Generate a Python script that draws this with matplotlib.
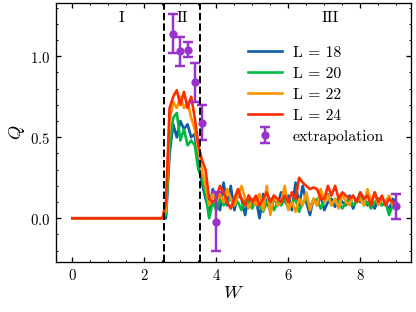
import matplotlib
matplotlib.use("Agg")
import matplotlib.pyplot as plt
import numpy as np

plt.rcParams['font.family'] = 'serif'
plt.rcParams['font.serif'] = ['cmr10', 'DejaVu Serif']
plt.rcParams['mathtext.fontset'] = 'cm'
plt.rcParams['axes.formatter.use_mathtext'] = True
plt.rcParams['font.size'] = 9

# disorder strength grid (W = 2.5 ... 9.0, step 0.1), preceded by W = 0
W = np.concatenate([[0.0], np.round(np.arange(25, 91) / 10, 1)])

# Q for each system size, W = 0, then 2.5 ... 9.0
q18 = [0.0, 0.0, 0.0, 0.40, 0.58, 0.50, 0.60, 0.55, 0.58, 0.50, 0.52, 0.32, 0.22, 0.12, 0.05, 0.18,
       0.12, 0.05, 0.22, 0.08, 0.20, 0.05, 0.15, 0.12, 0.02, 0.14, 0.08, 0.12, 0.00, 0.15, 0.10,
       0.05, 0.12, 0.08, 0.16, 0.10, 0.14, 0.05, 0.22, 0.08, 0.20, 0.10, 0.02, 0.12, 0.08, 0.14,
       0.05, 0.10, 0.12, 0.07, 0.13, 0.10, 0.08, 0.14, 0.06, 0.12, 0.10, 0.13, 0.08, 0.10, 0.06,
       0.12, 0.08, 0.10, 0.05, 0.12, 0.10]
q20 = [0.0, 0.0, 0.02, 0.45, 0.62, 0.65, 0.48, 0.55, 0.45, 0.48, 0.45, 0.30, 0.25, 0.15, 0.00, 0.10,
       0.05, 0.12, 0.08, 0.10, 0.12, 0.08, 0.10, 0.05, 0.12, 0.10, 0.06, 0.12, 0.08, 0.04, 0.10,
       0.12, 0.05, 0.10, 0.08, 0.12, 0.06, 0.10, 0.12, 0.04, 0.10, 0.12, 0.08, 0.10, 0.12, 0.06,
       0.10, 0.15, 0.08, 0.12, 0.10, 0.06, 0.10, 0.12, 0.08, 0.10, 0.16, 0.08, 0.10, 0.06, 0.10,
       0.12, 0.08, 0.10, 0.02, 0.08, 0.10]
q22 = [0.0, 0.0, 0.05, 0.60, 0.72, 0.68, 0.75, 0.68, 0.72, 0.62, 0.55, 0.42, 0.30, 0.20, 0.08, 0.15,
       0.10, 0.15, 0.10, 0.18, 0.12, 0.08, 0.14, 0.20, 0.12, 0.06, 0.12, 0.08, 0.15, 0.05, 0.20,
       0.02, 0.14, 0.08, 0.10, 0.20, 0.05, 0.10, 0.04, 0.12, 0.08, 0.16, 0.05, 0.12, 0.08, 0.18,
       0.10, 0.14, 0.08, 0.12, 0.06, 0.15, 0.10, 0.08, 0.14, 0.10, 0.12, 0.08, 0.18, 0.10, 0.16,
       0.08, 0.12, 0.10, 0.14, 0.08, 0.10]
q24 = [0.0, 0.0, 0.10, 0.68, 0.75, 0.79, 0.70, 0.78, 0.68, 0.75, 0.62, 0.45, 0.36, 0.30, 0.12, 0.10,
       0.12, 0.20, 0.16, 0.10, 0.06, 0.12, 0.18, 0.12, 0.08, 0.14, 0.10, 0.14, 0.08, 0.12, 0.16,
       0.10, 0.14, 0.12, 0.10, 0.14, 0.10, 0.16, 0.12, 0.25, 0.22, 0.20, 0.18, 0.19, 0.18, 0.12,
       0.12, 0.20, 0.14, 0.20, 0.12, 0.16, 0.14, 0.12, 0.14, 0.10, 0.16, 0.12, 0.14, 0.08, 0.16,
       0.10, 0.14, 0.08, 0.12, 0.10, 0.08]

# extrapolated values with error bars
W_ext = [2.8, 3.0, 3.2, 3.4, 3.6, 4.0, 9.0]
Q_ext = [1.14, 1.03, 1.04, 0.84, 0.59, -0.02, 0.075]
Q_err = [0.12, 0.09, 0.045, 0.12, 0.11, 0.18, 0.077]

sizes = ['L = 18', 'L = 20', 'L = 22', 'L = 24']
colors = ['#0C5DA5', '#00B945', '#FF9500', '#FF2C00']

fig = plt.figure(figsize=(3.5, 2.625), dpi=119)
ax = fig.add_axes([0.135, 0.16, 0.851, 0.83])

for q, lab, c in zip([q18, q20, q22, q24], sizes, colors):
    ax.plot(W, q, color=c, lw=1.6, label=lab)

ax.errorbar(W_ext, Q_ext, yerr=Q_err, fmt='o', color='#9933CC', ms=4,
            capsize=3, elinewidth=1.5, capthick=1.5, label='extrapolation')

ax.axvline(2.55, color='k', ls='--', lw=1.2)
ax.axvline(3.54, color='k', ls='--', lw=1.2)

ax.text(1.35, 1.235, 'I', ha='center', va='center', fontsize=9.5)
ax.text(3.05, 1.235, 'II', ha='center', va='center', fontsize=9.5)
ax.text(7.15, 1.235, 'III', ha='center', va='center', fontsize=9.5)

ax.set_xlim(-0.45, 9.4)
ax.set_ylim(-0.27, 1.33)
ax.set_xticks([0, 2, 4, 6, 8])
ax.set_xticks(np.arange(0, 9.5, 0.5), minor=True)
ax.set_yticks([0.0, 0.5, 1.0])
ax.set_yticks(np.arange(-0.2, 1.35, 0.1), minor=True)
ax.tick_params(which='both', direction='in', top=True, right=True)
ax.tick_params(which='major', length=3)
ax.tick_params(which='minor', length=1.5)

ax.set_xlabel('$W$', fontsize=11, labelpad=1)
ax.set_ylabel('$Q$', fontsize=11, labelpad=2)

ax.legend(loc='upper left', bbox_to_anchor=(0.50, 0.89), frameon=False,
          fontsize=9.5, handlelength=2.2, handletextpad=0.7, labelspacing=0.45)

fig.savefig('out.png', dpi=119)
